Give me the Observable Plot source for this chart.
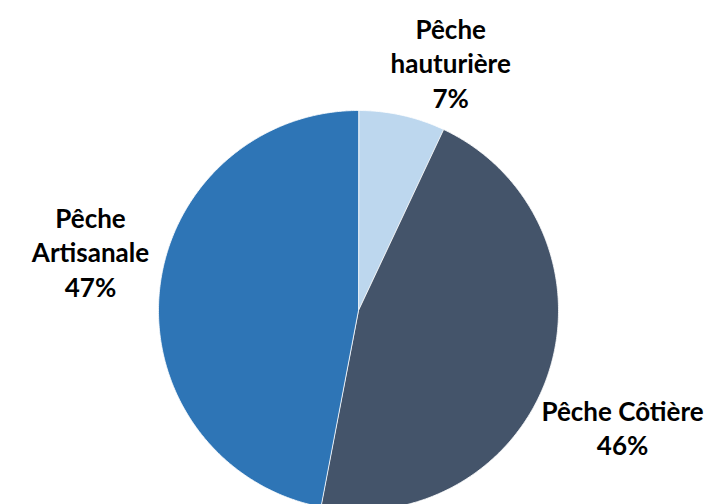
<!DOCTYPE html>
<html>
<head>
<meta charset="utf-8">
<script src="https://cdn.jsdelivr.net/npm/d3@7"></script>
<script src="https://cdn.jsdelivr.net/npm/@observablehq/plot@0.6"></script>
<style>
  html, body { margin: 0; padding: 0; background: #fff; }
  #chart { width: 710px; height: 504px; overflow: hidden; }
</style>
</head>
<body>
<div id="chart"></div>
<script>
// ---- Data ----
const categories = ["Pêche hauturière", "Pêche Côtière", "Pêche Artisanale"];
const shares = [7, 46, 47];
const colors = ["#BDD7EE", "#44546A", "#2E75B6"];
const labelTexts = ["Pêche\nhauturière\n7%", "Pêche Côtière\n46%", "Pêche\nArtisanale\n47%"];

// ---- Layout (not data) ----
const R = 200;
const labelRadius = [264.5, 288.8, 274.4];
const labelNudgeDeg = [7.8, 5.9, 7.0];

const arcs = d3.pie().sort(null).value(d => d)(shares);

// slice polygons (center + sampled arc)
const slicePts = [];
arcs.forEach((a, i) => {
  slicePts.push({cat: categories[i], x: 0, y: 0});
  const steps = Math.max(2, Math.ceil((a.endAngle - a.startAngle) / (Math.PI / 360)));
  for (let k = 0; k <= steps; k++) {
    const t = a.startAngle + (a.endAngle - a.startAngle) * k / steps;
    slicePts.push({cat: categories[i], x: R * Math.sin(t), y: R * Math.cos(t)});
  }
});

const labels = arcs.map((a, i) => {
  const mid = (a.startAngle + a.endAngle) / 2 + labelNudgeDeg[i] * Math.PI / 180;
  return {text: labelTexts[i], x: labelRadius[i] * Math.sin(mid), y: labelRadius[i] * Math.cos(mid)};
});

const chart = Plot.plot({
  width: 710,
  height: 504,
  margin: 0,
  style: {background: "#fff", fontFamily: "Lato, 'Open Sans', sans-serif"},
  x: {domain: [-358, 352], range: [0, 710], axis: null},
  y: {domain: [-194, 310], range: [504, 0], axis: null},
  color: {domain: categories, range: colors},
  marks: [
    Plot.line(slicePts, {x: "x", y: "y", z: "cat", fill: "cat", stroke: "#ffffff", strokeWidth: 0.8, curve: "linear-closed"}),
    Plot.text(labels, {x: "x", y: "y", text: "text", fontSize: 26, fontWeight: "bold", lineHeight: 1.31, fill: "#000", textAnchor: "middle"})
  ]
});
document.getElementById("chart").appendChild(chart);
</script>
</body>
</html>
